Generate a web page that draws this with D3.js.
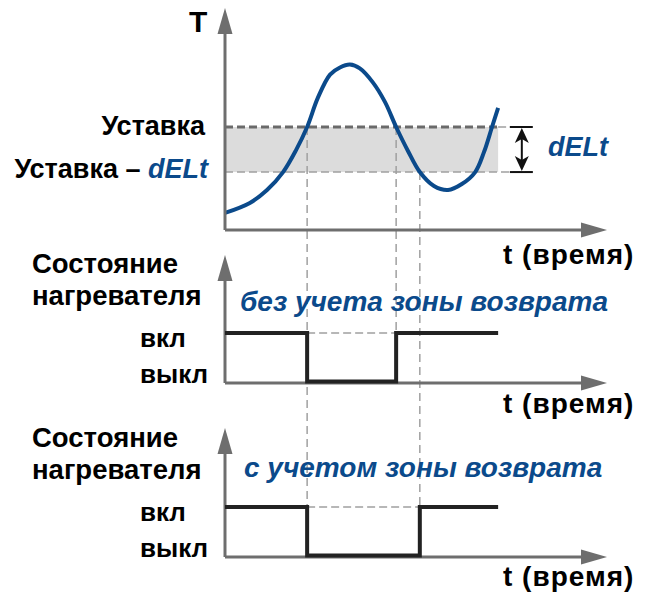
<!DOCTYPE html>
<html>
<head>
<meta charset="utf-8">
<script src="https://cdn.jsdelivr.net/npm/d3@7"></script>
<style>
body { margin: 0; background: #fff; }
svg text { font-family: "Liberation Sans", Arial, sans-serif; font-weight: bold; }
</style>
</head>
<body>
<script>
/* data: temperature curve (t in time units 0..100, T in units 0..100) */
var curveTime = [0, 6.5, 11, 15.2, 18.6, 21.5, 24.3, 27.5, 30.1, 32.7, 35.3, 38.7, 41.9, 44.8, 47.9, 51, 54.7, 58.4, 62, 65.5, 67.8, 69.9, 71.5];
var curveTemp = [7.7, 12.2, 18, 26.1, 36, 46.4, 59.5, 70, 73.2, 74.5, 72.8, 66.5, 57.6, 46.4, 35.6, 26.1, 19.8, 18, 20.7, 26.1, 35.1, 46.4, 55];

var setpoint = 46.4,
    dELt = 20.3,
    tEnd = 71.5,     // band + step lines stop here
    tBracket = 77.7, // dELt bracket
    tMarkEnd = 80.6; // setpoint dashes reach the bracket

/* heater state, 1 = on, 0 = off (step after each time) */
var noZoneTime = [0, 21.5, 44.8, 71.5],
    noZoneState = [1, 0, 1, 1];
var zoneTime = [0, 21.5, 51, 71.5],
    zoneState = [1, 0, 1, 1];

/* labels */
var tempLabel = "T",
    timeLabel = "t (время)",
    stateLabel = ["Состояние", "нагревателя"],
    stateTicks = ["вкл", "выкл"],
    panelTitles = ["без учета зоны возврата", "с учетом зоны возврата"],
    setLabel = "Уставка",
    setMinusLabel = ["Уставка – ", "dELt"];

var blue = "#0b4a8b", axisGrey = "#6e6e6e", dashGrey = "#a0a0a0";

var svg = d3.select("body").append("svg")
    .attr("width", 649)
    .attr("height", 595);

var x = d3.scaleLinear().domain([0, 100]).range([225, 607]);
var yT = d3.scaleLinear().domain([0, 100]).range([230, 8]);

// two state panels: on/off levels, axis base, arrow tip
var panels = [
    {y: d3.scaleLinear().domain([0, 1]).range([381.5, 333]), base: 383, top: 255, time: noZoneTime, state: noZoneState, title: panelTitles[0], titleX: 240, titleY: 311, labelY: 273, timeY: 413},
    {y: d3.scaleLinear().domain([0, 1]).range([555.5, 507]), base: 557, top: 428, time: zoneTime, state: zoneState, title: panelTitles[1], titleX: 244, titleY: 477, labelY: 447, timeY: 586}
];


/* BAND + SETPOINT LINES */

svg.append("rect")
    .attr("x", x(0))
    .attr("y", yT(setpoint))
    .attr("width", x(tEnd) - x(0))
    .attr("height", yT(setpoint - dELt) - yT(setpoint))
    .style("fill", "#dcdcdc");

svg.append("line")
    .attr("x1", x(0)).attr("x2", x(tEnd))
    .attr("y1", yT(setpoint)).attr("y2", yT(setpoint))
    .style("stroke", "#6a6a6a").style("stroke-width", 3)
    .style("stroke-dasharray", "8,4");

svg.append("line")
    .attr("x1", x(tEnd)).attr("x2", x(tMarkEnd))
    .attr("y1", yT(setpoint)).attr("y2", yT(setpoint))
    .style("stroke", dashGrey).style("stroke-width", 1.5)
    .style("stroke-dasharray", "8,4");

svg.append("line")
    .attr("x1", x(0)).attr("x2", x(tMarkEnd))
    .attr("y1", yT(setpoint - dELt)).attr("y2", yT(setpoint - dELt))
    .style("stroke", dashGrey).style("stroke-width", 1.5)
    .style("stroke-dasharray", "8,4");


/* VERTICAL GUIDES from the crossings down to the steps */

var guides = [
    {t: noZoneTime[1], y1: yT(setpoint), y2: panels[1].y(1)},
    {t: noZoneTime[2], y1: yT(setpoint), y2: panels[0].y(1)},
    {t: zoneTime[2], y1: yT(setpoint - dELt), y2: panels[1].y(1)}
];

svg.selectAll("line.guide")
    .data(guides)
    .enter().append("line")
    .attr("class", "guide")
    .attr("x1", function(d) { return x(d.t); })
    .attr("x2", function(d) { return x(d.t); })
    .attr("y1", function(d) { return d.y1; })
    .attr("y2", function(d) { return d.y2; })
    .style("stroke", dashGrey).style("stroke-width", 1.5)
    .style("stroke-dasharray", "8,5");

// dashed "on" level while the heater is off
panels.forEach(function(p) {
    svg.append("line")
        .attr("x1", x(p.time[1])).attr("x2", x(p.time[2]))
        .attr("y1", p.y(1)).attr("y2", p.y(1))
        .style("stroke", dashGrey).style("stroke-width", 1.5)
        .style("stroke-dasharray", "8,4");
});


/* TEMPERATURE CURVE */

var line = d3.line()
    .x(function(d, i) { return x(curveTime[i]); })
    .y(function(d) { return yT(d); })
    .curve(d3.curveCatmullRom.alpha(0.5));

svg.append("path")
    .attr("d", line(curveTemp))
    .style("fill", "none")
    .style("stroke", blue)
    .style("stroke-width", 4);


/* AXES (plain arrows, no ticks) */

function arrowAxis(x0, y0, x1, y1) {
    var ang = Math.atan2(y1 - y0, x1 - x0), len = 26, half = 7.5;
    var bx = x1 - len * Math.cos(ang), by = y1 - len * Math.sin(ang);
    svg.append("line")
        .attr("x1", x0).attr("y1", y0).attr("x2", bx).attr("y2", by)
        .style("stroke", axisGrey).style("stroke-width", 3);
    svg.append("path")
        .attr("d", "M" + x1 + "," + y1 +
            "L" + (bx - half * Math.sin(ang)) + "," + (by + half * Math.cos(ang)) +
            "L" + (bx + half * Math.sin(ang)) + "," + (by - half * Math.cos(ang)) + "Z")
        .style("fill", axisGrey);
}

arrowAxis(x(0), yT(0), x(0), 8);
arrowAxis(x(0), yT(0), x(100), yT(0));

panels.forEach(function(p) {
    arrowAxis(x(0), p.base, x(0), p.top);
    arrowAxis(x(0), p.base, x(100), p.base);
});


/* STEPS */

var step = d3.line()
    .curve(d3.curveStepAfter);

panels.forEach(function(p) {
    svg.append("path")
        .attr("d", step(p.time.map(function(t, i) { return [x(t), p.y(p.state[i])]; })))
        .style("fill", "none")
        .style("stroke", "#222")
        .style("stroke-width", 4);
});


/* dELt BRACKET */

var brX = x(tBracket), brTop = yT(setpoint), brBot = yT(setpoint - dELt);

svg.selectAll("line.brtick")
    .data([brTop, brBot])
    .enter().append("line")
    .attr("class", "brtick")
    .attr("x1", brX - 12).attr("x2", brX + 11)
    .attr("y1", function(d) { return d; }).attr("y2", function(d) { return d; })
    .style("stroke", "#111").style("stroke-width", 2);

svg.append("line")
    .attr("x1", brX).attr("x2", brX)
    .attr("y1", brTop + 8).attr("y2", brBot - 8)
    .style("stroke", "#111").style("stroke-width", 2);

svg.append("path")
    .attr("d", "M" + brX + "," + (brTop + 1) + "l-7,15l7,-4l7,4Z" +
        "M" + brX + "," + (brBot - 1) + "l-7,-15l7,4l7,-4Z")
    .style("fill", "#111");


/* TEXT */

svg.append("text")
    .attr("x", 189).attr("y", 32)
    .style("font-size", "30px")
    .text(tempLabel);

svg.append("text")
    .attr("x", 205).attr("y", 135)
    .attr("text-anchor", "end")
    .style("font-size", "27px")
    .text(setLabel);

var sm = svg.append("text")
    .attr("x", 208).attr("y", 178)
    .attr("text-anchor", "end")
    .style("font-size", "27px");
sm.append("tspan").text(setMinusLabel[0]);
sm.append("tspan")
    .style("fill", blue).style("font-style", "italic")
    .text(setMinusLabel[1]);

svg.append("text")
    .attr("x", 548).attr("y", 156)
    .style("font-size", "27px")
    .style("fill", blue).style("font-style", "italic")
    .text(setMinusLabel[1]);

svg.selectAll("text.time")
    .data([264, panels[0].timeY, panels[1].timeY])
    .enter().append("text")
    .attr("class", "time")
    .attr("x", 503)
    .attr("y", function(d) { return d; })
    .style("font-size", "28px")
    .style("letter-spacing", "1px")
    .text(timeLabel);

panels.forEach(function(p) {
    svg.selectAll(null)
        .data(stateLabel)
        .enter().append("text")
        .attr("x", 32)
        .attr("y", function(d, i) { return p.labelY + i * 32; })
        .style("font-size", "27.5px")
        .text(function(d) { return d; });

    svg.selectAll(null)
        .data(stateTicks)
        .enter().append("text")
        .attr("x", 140)
        .attr("y", function(d, i) { return i === 0 ? p.y(1) + 14 : p.y(0) + 1; })
        .style("font-size", "26px")
        .text(function(d) { return d; });

    svg.append("text")
        .attr("x", p.titleX).attr("y", p.titleY)
        .style("font-size", "28px")
        .style("fill", blue).style("font-style", "italic")
        .text(p.title);
});

</script>
</body>
</html>
